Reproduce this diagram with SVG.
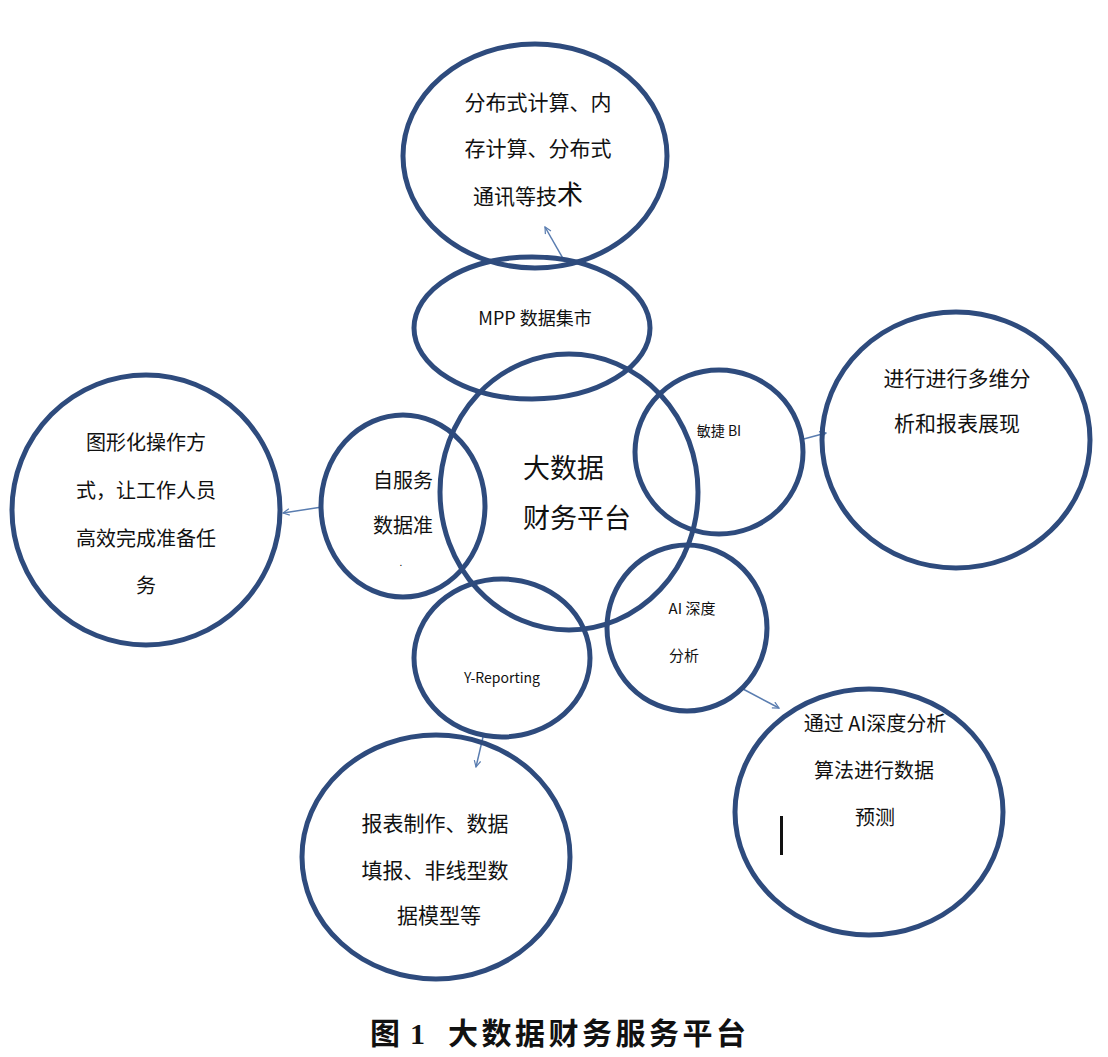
<svg xmlns="http://www.w3.org/2000/svg" width="1108" height="1057" viewBox="0 0 1108 1057">
<style>
.c{fill:none;stroke:#2e4b7d;stroke-width:5}
.t{font-family:"Noto Sans CJK SC","Liberation Sans",sans-serif;fill:#111;text-anchor:middle}
.a{stroke:#5a7db0;stroke-width:1.5;fill:none}
.cap{font-size:30px;font-weight:bold;fill:#111}
</style>
<defs>
<marker id="ah" viewBox="0 0 10 10" refX="9" refY="5" markerWidth="8" markerHeight="8" orient="auto" markerUnits="userSpaceOnUse">
<path d="M1,1 L9,5 L1,9" fill="none" stroke="#5a7db0" stroke-width="1.5"/>
</marker>
</defs>
<rect width="1108" height="1057" fill="#fff"/>
<g id="connectors">
<line class="a" x1="565" y1="262" x2="545" y2="227" marker-end="url(#ah)"/>
<line class="a" x1="800" y1="440" x2="826" y2="433" marker-end="url(#ah)"/>
<line class="a" x1="322" y1="507" x2="283" y2="513" marker-end="url(#ah)"/>
<line class="a" x1="743" y1="689" x2="779" y2="708" marker-end="url(#ah)"/>
<line class="a" x1="483" y1="737" x2="476" y2="767" marker-end="url(#ah)"/>
</g>
<g id="n-top">
<ellipse class="c" cx="535" cy="156" rx="132" ry="112"/>
<text class="t" font-size="21" x="538" y="110">分布式计算、内</text>
<text class="t" font-size="21" x="538" y="156">存计算、分布式</text>
<text class="t" font-size="21" x="528" y="204">通讯等技<tspan font-size="26">术</tspan></text>
</g>
<g id="n-mpp">
<ellipse class="c" cx="532" cy="328" rx="118" ry="71"/>
<text class="t" font-size="18" x="535" y="325">MPP 数据集市</text>
</g>
<g id="n-center">
<ellipse class="c" cx="569" cy="492" rx="129" ry="138"/>
<text class="t" font-size="27" x="523" y="478" style="text-anchor:start">大数据</text>
<text class="t" font-size="27" x="523" y="528" style="text-anchor:start">财务平台</text>
</g>
<g id="n-bi">
<ellipse class="c" cx="719" cy="452" rx="84" ry="82"/>
<text class="t" font-size="14" x="719" y="436">敏捷 BI</text>
</g>
<g id="n-right">
<ellipse class="c" cx="956" cy="440" rx="134" ry="128"/>
<text class="t" font-size="21" x="957" y="386">进行进行多维分</text>
<text class="t" font-size="21" x="957" y="431">析和报表展现</text>
</g>
<g id="n-self">
<ellipse class="c" cx="403" cy="506" rx="82" ry="91"/>
<text class="t" font-size="20" x="403" y="488">自服务</text>
<text class="t" font-size="20" x="403" y="533">数据准</text>
<text class="t" font-size="10" x="401" y="566">.</text>
</g>
<g id="n-left">
<ellipse class="c" cx="146" cy="510" rx="134" ry="135"/>
<text class="t" font-size="20" x="146" y="450">图形化操作方</text>
<text class="t" font-size="20" x="146" y="498">式，让工作人员</text>
<text class="t" font-size="20" x="146" y="546">高效完成准备任</text>
<text class="t" font-size="20" x="146" y="593">务</text>
</g>
<g id="n-ai">
<ellipse class="c" cx="687" cy="628" rx="80" ry="83"/>
<text class="t" font-size="15" x="692" y="614">AI 深度</text>
<text class="t" font-size="15" x="684" y="661">分析</text>
</g>
<g id="n-yrep">
<ellipse class="c" cx="502" cy="658" rx="88" ry="79"/>
<text class="t" font-size="14" x="502" y="683">Y-Reporting</text>
</g>
<g id="n-report">
<ellipse class="c" cx="436" cy="857" rx="134" ry="122"/>
<text class="t" font-size="21" x="435" y="831">报表制作、数据</text>
<text class="t" font-size="21" x="435" y="878">填报、非线型数</text>
<text class="t" font-size="21" x="439" y="923">据模型等</text>
</g>
<g id="n-predict">
<ellipse class="c" cx="869" cy="812" rx="134" ry="123"/>
<text class="t" font-size="20" x="875" y="731">通过 AI深度分析</text>
<text class="t" font-size="20" x="874" y="778">算法进行数据</text>
<text class="t" font-size="20" x="875" y="825">预测</text>
<rect x="780" y="816" width="3" height="39" fill="#111"/>
</g>
<g id="caption">
<text class="cap" x="370" y="1044" font-family="'Noto Sans CJK SC',serif">图</text>
<text class="cap" x="410" y="1044" font-family="'Liberation Serif',serif">1</text>
<text class="cap" x="448" y="1044" font-family="'Noto Sans CJK SC',serif" textLength="298" lengthAdjust="spacing">大数据财务服务平台</text>
</g>
</svg>
